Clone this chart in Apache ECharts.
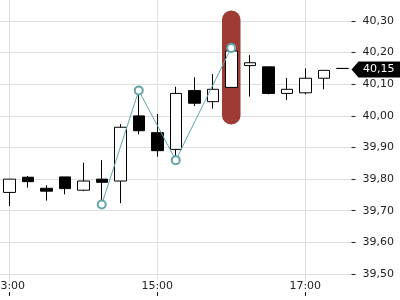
<!DOCTYPE html>
<html>
<head>
<meta charset="utf-8">
<script src="https://cdn.jsdelivr.net/npm/echarts@6/dist/echarts.min.js"></script>
<style>html,body{margin:0;padding:0;background:#fff}#c{width:400px;height:300px}</style>
</head>
<body>
<div id="c"></div>
<script>
// ---- data ----
const categories = ['13:00','13:15','13:30','13:45','14:00','14:15','14:30','14:45',
                    '15:00','15:15','15:30','15:45','16:00','16:15','16:30','16:45',
                    '17:00','17:15','17:30'];
const opens  = [39.758,39.806,39.771,39.807,39.765,39.800,39.794,40.000,39.947,39.894,40.080,40.045,40.090,40.159,40.155,40.071,40.073,40.119,40.150];
const closes = [39.800,39.792,39.762,39.770,39.794,39.790,39.964,39.953,39.890,40.071,40.040,40.084,40.205,40.168,40.071,40.084,40.119,40.144,40.150];
const lows   = [39.715,39.773,39.732,39.752,39.762,39.725,39.724,39.942,39.871,39.870,40.031,40.023,40.090,40.061,40.068,40.050,40.068,40.084,40.150];
const highs  = [39.800,39.810,39.781,39.807,39.852,39.860,39.974,40.082,40.006,40.092,40.122,40.132,40.218,40.192,40.155,40.120,40.150,40.144,40.150];
const lineValues = [null,null,null,null,null,39.72,null,40.08,null,39.86,null,null,40.215,null,null,null,null,null,null];
const highlightBase = [null,null,null,null,null,null,null,null,null,null,null,null,39.973,null,null,null,null,null,null];
const highlightSpan = [null,null,null,null,null,null,null,null,null,null,null,null,0.36,null,null,null,null,null,null];
const lastPrice = 40.15;

const fmt = v => Number(v).toFixed(2).replace('.', ',');
const candleData = categories.map((_, i) => [opens[i], closes[i], lows[i], highs[i]]);

const gridColor = '#dedede';
const textColor = '#222';
const font = 'DejaVu Sans';
const teal = '#62a3ab';
const RIGHT = 48.5;

const chart = echarts.init(document.getElementById('c'), null, {renderer: 'canvas'});
chart.setOption({
  animation: false,
  backgroundColor: '#fff',
  grid: [
    {left: 0, right: RIGHT, top: -10.625, bottom: -5.625, outerBoundsMode: 'none', containLabel: false},
    {left: 0, right: RIGHT, top: 0, bottom: 19, outerBoundsMode: 'none', containLabel: false},
    {left: 0, right: RIGHT, top: 0, bottom: 4, outerBoundsMode: 'none', containLabel: false}
  ],
  xAxis: [
    {type: 'category', gridIndex: 0, data: categories, boundaryGap: true,
     axisLine: {show: false}, axisTick: {show: false}, axisLabel: {show: false}, splitLine: {show: false}},
    {type: 'category', gridIndex: 1, data: categories, boundaryGap: true,
     axisLine: {show: false}, axisTick: {show: false}, axisLabel: {show: false},
     splitLine: {show: true, interval: 7, alignWithLabel: true, lineStyle: {color: gridColor, width: 1}}},
    {type: 'category', gridIndex: 2, data: categories, boundaryGap: true,
     axisLine: {show: false},
     axisTick: {show: true, inside: true, length: 4, interval: 7, alignWithLabel: true, lineStyle: {color: textColor, width: 1}},
     axisLabel: {show: true, inside: true, interval: 7, margin: 4, color: textColor, fontFamily: font, fontSize: 11},
     splitLine: {show: false}}
  ],
  yAxis: [
    {type: 'value', gridIndex: 0, position: 'right', min: 39.4, max: 40.4, interval: 0.1,
     axisLine: {show: false},
     axisTick: {show: true, length: 4, lineStyle: {color: textColor, width: 1}},
     axisLabel: {margin: 11, color: textColor, fontFamily: font, fontSize: 11, formatter: fmt},
     splitLine: {show: true, lineStyle: {color: gridColor, width: 1}}},
    {type: 'value', gridIndex: 1, show: false},
    {type: 'value', gridIndex: 2, show: false}
  ],
  series: [
    {type: 'bar', xAxisIndex: 0, yAxisIndex: 0, stack: 'hl', data: highlightBase, barWidth: '100%',
     itemStyle: {color: 'rgba(0,0,0,0)'}, silent: true},
    {type: 'bar', xAxisIndex: 0, yAxisIndex: 0, stack: 'hl', data: highlightSpan, barWidth: '100%',
     itemStyle: {color: '#9d3b34', borderRadius: 9}},
    {type: 'candlestick', xAxisIndex: 0, yAxisIndex: 0, data: candleData, barWidth: 12,
     itemStyle: {color: '#ffffff', color0: '#000000', borderColor: '#000000', borderColor0: '#000000',
                 borderColorDoji: '#000000', borderWidth: 1}},
    {type: 'line', xAxisIndex: 0, yAxisIndex: 0, data: lineValues, connectNulls: true,
     symbol: 'emptyCircle', symbolSize: 8, showAllSymbol: true,
     lineStyle: {color: teal, width: 1},
     itemStyle: {color: teal, borderColor: teal, borderWidth: 1}}
  ]
});

// price tag positioned through the y axis scale
const py = chart.convertToPixel({yAxisIndex: 0}, lastPrice);
const gx = chart.getWidth() - RIGHT;
const W = chart.getWidth();
chart.setOption({
  graphic: [{
    type: 'group', z: 100,
    children: [
      {type: 'polygon', shape: {points: [[gx, py + 1], [gx + 7, py - 7], [W, py - 7], [W, py + 9], [gx + 7, py + 9]]},
       style: {fill: '#000'}},
      {type: 'text', x: gx + 11.5, y: py + 1,
       style: {text: fmt(lastPrice), fill: '#fff', font: '11px "DejaVu Sans"', verticalAlign: 'middle', align: 'left'}}
    ]
  }]
});
</script>
</body>
</html>
